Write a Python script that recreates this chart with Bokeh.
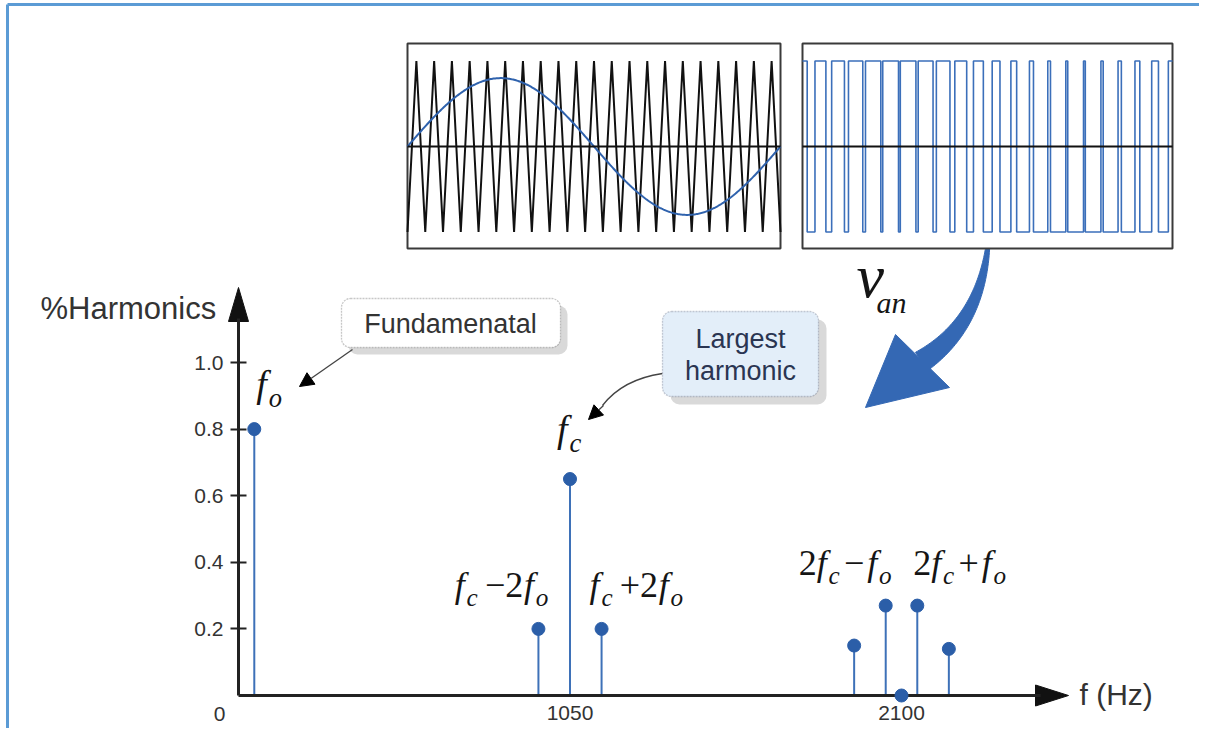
import numpy as np
from bokeh.plotting import figure
from bokeh.models import (Range1d, FixedTicker, Label, BoxAnnotation, Arrow, NormalHead)
from bokeh.embed import file_html
from bokeh.resources import INLINE

# ------------------------------------------------------------------ data
harmonic_names = ["fo", "fc-2fo", "fc", "fc+2fo", "2fc-3fo", "2fc-fo", "2fc", "2fc+fo", "2fc+3fo"]
harmonic_freq_hz = [50, 950, 1050, 1150, 1950, 2050, 2100, 2150, 2250]
harmonic_amplitude = [0.80, 0.20, 0.65, 0.20, 0.15, 0.27, 0.00, 0.27, 0.14]

x_tick_values = [1050, 2100]
x_tick_labels = ["1050", "2100"]
y_tick_values = [0.2, 0.4, 0.6, 0.8, 1.0]
y_tick_labels = ["0.2", "0.4", "0.6", "0.8", "1.0"]

carrier_cycles = 21        # triangles per period seen in the inset
modulation_index = 0.8     # sine peak / triangle peak seen in the inset

# ------------------------------------------------------------------ layout
W, H, M = 1199, 728, 0
PX0, PX1, PY0, PY1 = M, M + W, M, M + H


def rng(va, pa, vb, pb, lo, hi):
    k = (vb - va) / (pb - pa)
    return Range1d(start=va + (lo - pa) * k, end=va + (hi - pa) * k)


X_ORIGIN, X_2100, Y_ORIGIN, Y_ONE = 238, 901, 695, 362


def hz_px(f):
    return X_ORIGIN + f * (X_2100 - X_ORIGIN) / 2100.0


def amp_py(a):
    return Y_ORIGIN - a * (Y_ORIGIN - Y_ONE)


p = figure(width=W, height=H,
           x_range=rng(0, X_ORIGIN, 2100, X_2100, PX0, PX1),
           y_range=rng(0, Y_ORIGIN, 1, Y_ONE, PY1, PY0),
           output_backend="svg", toolbar_location=None, min_border=0,
           background_fill_color="white", border_fill_color="white",
           outline_line_color=None)
p.grid.visible = False
p.extra_x_ranges = {
    "px": Range1d(PX0, PX1),
    "t1": rng(0, 407, 1, 780, PX0, PX1),
    "t2": rng(0, 802, 1, 1172, PX0, PX1),
}
p.extra_y_ranges = {
    "py": Range1d(start=PY1, end=PY0),
    "w": rng(0, 146, 1, 60.5, PY1, PY0),
}
PXR = dict(x_range_name="px", y_range_name="py")

AXIS_COLOR = "#222222"
TXT = "#333333"
SANS = "Liberation Sans"
SERIF = "Liberation Serif"

# ------------------------------------------------------------------ axes
xa = p.xaxis[0]
xa.fixed_location = 0
xa.ticker = FixedTicker(ticks=x_tick_values)
xa.major_label_overrides = {v: s for v, s in zip(x_tick_values, x_tick_labels)}
xa.bounds = (0, (1040 - X_ORIGIN) * 2100 / (X_2100 - X_ORIGIN))
xa.major_tick_in = 0
xa.major_tick_out = 0
xa.minor_tick_line_color = None
xa.major_label_standoff = 10

ya = p.yaxis[0]
ya.fixed_location = 0
ya.ticker = FixedTicker(ticks=y_tick_values)
ya.major_label_overrides = {v: s for v, s in zip(y_tick_values, y_tick_labels)}
ya.bounds = (0, (Y_ORIGIN - 318) / (Y_ORIGIN - Y_ONE))
ya.major_tick_in = 8
ya.major_tick_out = 8
ya.minor_tick_line_color = None
ya.major_label_standoff = 7

for ax in (xa, ya):
    ax.axis_line_width = 3
    ax.axis_line_color = AXIS_COLOR
    ax.major_tick_line_width = 2
    ax.major_tick_line_color = AXIS_COLOR
    ax.major_label_text_font = SANS
    ax.major_label_text_font_size = "21px"
    ax.major_label_text_color = TXT

# arrow heads of the axes
p.patch([238, 228, 248], [287, 321, 321], color="#111111", **PXR)
p.patch([1068, 1035, 1035], [695, 684.5, 705.5], color="#111111", **PXR)

# ------------------------------------------------------------------ frame border (top / left)
p.segment(x0=[7, 7], y0=[4, 4], x1=[7, PX1], y1=[PY1, 4],
          line_color="#5b9bd5", line_width=3, **PXR)

# ------------------------------------------------------------------ stems
p.segment(x0=harmonic_freq_hz, y0=[0] * len(harmonic_freq_hz), x1=harmonic_freq_hz,
          y1=harmonic_amplitude, line_color="#3e71b8", line_width=2)
dots = p.scatter(harmonic_freq_hz, harmonic_amplitude, size=13,
                 fill_color="#2b5ea8", line_color="#2b5ea8")
dots.level = "overlay"


# ------------------------------------------------------------------ text helpers
BASE_FIX = 0.36   # alphabetic baseline correction (fraction of font size)


def add_text(text, x, y, size, align="left", baseline="alphabetic", font=SANS,
             style="normal", color=TXT):
    if baseline == "alphabetic":
        y = y - BASE_FIX * size
    p.add_layout(Label(x=x, y=y, text=text, text_font=font,
                       text_font_size=f"{size:.1f}px", text_font_style=style,
                       text_color=color, text_align=align, text_baseline=baseline, **PXR))


IT_W = {"f": 0.278, "o": 0.5, "c": 0.444, "v": 0.444, "a": 0.5, "n": 0.5}
RM_W = {"2": 0.5, "\u2212": 0.564, "+": 0.564}


def math(segs, x, base, size, anchor="left"):
    sub = 0.7 * size
    items, cur = [], 0.0
    for text, kind in segs:
        if kind == "gap":
            cur += text * size
            continue
        s = sub if kind == "sub" else size
        if kind == "sub":
            cur += 0.05 * size
        items.append((text, kind, cur, s))
        table = RM_W if kind == "rm" else IT_W
        cur += sum(table.get(ch, 0.5) for ch in text) * s
    x0 = x if anchor == "left" else (x - cur if anchor == "right" else x - cur / 2)
    for text, kind, off, s in items:
        dy = 0.24 * size if kind == "sub" else 0
        add_text(text, x0 + off, base + dy, s, font=SERIF,
                 style="normal" if kind == "rm" else "italic", color="#151515")


F, RM, SUB = "it", "rm", "sub"
MINUS = "\u2212"
expr = {
    "fo": ([("f", F), ("o", SUB)], "left", 2, 31, 38),
    "fc": ([("f", F), ("c", SUB)], "left", -13, 36, 38),
    "fc-2fo": ([("f", F), ("c", SUB), (0.2, "gap"), (MINUS, RM), ("2", RM), (0.02, "gap"),
                ("f", F), ("o", SUB)], "right", 10, 31, 36),
    "fc+2fo": ([("f", F), ("c", SUB), (0.2, "gap"), ("+", RM), ("2", RM), (0.02, "gap"),
                ("f", F), ("o", SUB)], "left", -12, 31, 36),
    "2fc-fo": ([("2", RM), ("f", F), ("c", SUB), (0.12, "gap"), (MINUS, RM), (0.08, "gap"),
                ("f", F), ("o", SUB)], "right", 6, 30, 36),
    "2fc+fo": ([("2", RM), ("f", F), ("c", SUB), (0.12, "gap"), ("+", RM), (0.08, "gap"),
                ("f", F), ("o", SUB)], "left", -4, 30, 36),
}
for name, f, a in zip(harmonic_names, harmonic_freq_hz, harmonic_amplitude):
    if name in expr:
        segs, anchor, dx, dy, size = expr[name]
        math(segs, hz_px(f) + dx, amp_py(a) - dy, size, anchor)

# axis texts
add_text("%Harmonics", 40, 308, 31, baseline="middle")
add_text("f (Hz)", 1079, 694, 30, baseline="middle")
add_text("0", 219, 713, 21, align="center", baseline="middle")

# ------------------------------------------------------------------ callout boxes
p.add_layout(BoxAnnotation(left=348, right=567, top=305, bottom=354, fill_color="#cfcfcf",
                           fill_alpha=0.8, line_color=None, border_radius=9, **PXR))
p.add_layout(BoxAnnotation(left=341, right=560, top=298, bottom=347, fill_color="white",
                           fill_alpha=1, line_color="#444444", line_dash="2 1",
                           line_width=1.3, border_radius=9, **PXR))
add_text("Fundamenatal", 450, 323, 27, align="center", baseline="middle")

p.add_layout(BoxAnnotation(left=670, right=826, top=319, bottom=404, fill_color="#cfcfcf",
                           fill_alpha=0.8, line_color=None, border_radius=9, **PXR))
p.add_layout(BoxAnnotation(left=662, right=818, top=311, bottom=396, fill_color="#e3eef9",
                           fill_alpha=1, line_color="#4c5670", line_dash="2 1",
                           line_width=1.3, border_radius=9, **PXR))
add_text("Largest", 740, 338, 27, align="center", baseline="middle", color="#2a3552")
add_text("harmonic", 740, 370, 27, align="center", baseline="middle", color="#2a3552")

# thin pointer arrows
p.add_layout(Arrow(end=NormalHead(size=14, fill_color="black", line_color="black"),
                   x_start=352, y_start=349, x_end=299, y_end=386,
                   line_color="#444444", line_width=1.3, **PXR))
p.bezier(x0=[662], y0=[373], x1=[602], y1=[405], cx0=[628], cy0=[378], cx1=[612], cy1=[392],
         line_color="#444444", line_width=1.3, **PXR)
p.add_layout(Arrow(end=NormalHead(size=14, fill_color="black", line_color="black"),
                   x_start=603, y_start=405, x_end=588, y_end=419,
                   line_color="#444444", line_width=1.3, **PXR))

# ------------------------------------------------------------------ big curved arrow
n = 60
tt = np.linspace(0, 1, n)[:, None]
P0, P1, P2 = np.array([988.0, 238.0]), np.array([982.0, 322.0]), np.array([921.0, 361.0])
c = (1 - tt) ** 2 * P0 + 2 * (1 - tt) * tt * P1 + tt ** 2 * P2
d = np.gradient(c, axis=0)
nrm = np.stack([-d[:, 1], d[:, 0]], axis=1)
nrm /= np.linalg.norm(nrm, axis=1)[:, None]
wdt = np.linspace(3, 22, n)[:, None] / 2
edge = np.vstack([c + nrm * wdt, (c - nrm * wdt)[::-1]])
p.patch(edge[:, 0], edge[:, 1], color="#3468b4", **PXR)
p.patch([895, 949, 865], [334, 387, 407], color="#3468b4", **PXR)

add_text("v", 856, 298, 62, font=SERIF, style="italic", color="#151515")
add_text("an", 876, 313, 30, font=SERIF, style="italic", color="#151515")

# ------------------------------------------------------------------ insets
for left, right in ((407, 780), (802, 1172)):
    p.quad(left=left, right=right, top=43, bottom=248, fill_color="white",
           line_color="#3a3a3a", line_width=2, **PXR)

# carrier triangle and sine reference (left inset)
k = np.arange(2 * carrier_cycles + 1)
tri_t = k / (2 * carrier_cycles)
tri_v = np.where(k % 2 == 0, -1.0, 1.0)
p.line(tri_t, tri_v, line_color="#111111", line_width=2, x_range_name="t1", y_range_name="w")
ts = np.linspace(0, 1, 400)
p.line(ts, modulation_index * np.sin(2 * np.pi * ts), line_color="#2f62ad", line_width=2,
       x_range_name="t1", y_range_name="w")
p.line([0, 1], [0, 0], line_color="#111111", line_width=2, x_range_name="t1", y_range_name="w")

# PWM output (right inset)
td = np.linspace(0, 1, 200001)
carrier = np.interp(td, tri_t, tri_v)
pwm = np.where(modulation_index * np.sin(2 * np.pi * td) > carrier, 1.0, -1.0)
idx = np.nonzero(np.diff(pwm))[0] + 1
st = np.concatenate([[0.0], td[idx], [1.0]])
sv = np.concatenate([[pwm[0]], pwm[idx], [pwm[-1]]])
p.step(st, sv, mode="after", line_color="#3b6fba", line_width=1.6,
       x_range_name="t2", y_range_name="w")
p.line([0, 1], [0, 0], line_color="#111111", line_width=2, x_range_name="t2", y_range_name="w")

open("out.html", "w").write(file_html(p, INLINE))
